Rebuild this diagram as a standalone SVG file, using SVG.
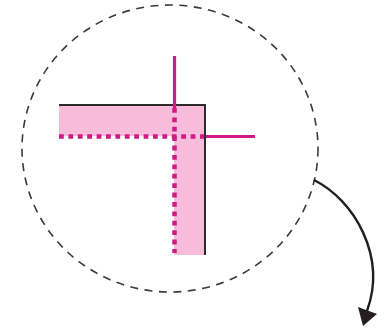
<svg xmlns="http://www.w3.org/2000/svg" width="385" height="330" viewBox="0 0 385 330">
<style>
.dash{fill:none;stroke:#3a3a3c;stroke-width:1.6;stroke-dasharray:8 6.500}
.mag{fill:none;stroke:#d01a86;stroke-width:3.200}
.dot{fill:none;stroke:#d01a86;stroke-width:4.500;stroke-dasharray:4.800 4.600}
.edge{fill:none;stroke:#2d2a2c;stroke-width:2}
</style>
<rect width="385" height="330" fill="#fff"/>
<g id="circle"><ellipse class="dash" cx="170" cy="148.500" rx="148" ry="143.500"/></g>
<g id="corner">
<path d="M59 105H205V255H174V136H59Z" fill="#f7bcd9"/>
<path class="edge" d="M59 105H205V255"/>
<path class="mag" d="M174.500 56V108"/>
<path class="mag" d="M206 136.500H255"/>
<path class="dot" d="M59 136.500H204"/>
<path class="dot" d="M174.500 108V253"/>
</g>
<g id="connectors">
<path d="M314 180C354 200 387 256 367 311" fill="none" stroke="#231f20" stroke-width="2.400"/>
<path d="M358 307L377 314L363 326Z" fill="#231f20"/>
</g>
</svg>
